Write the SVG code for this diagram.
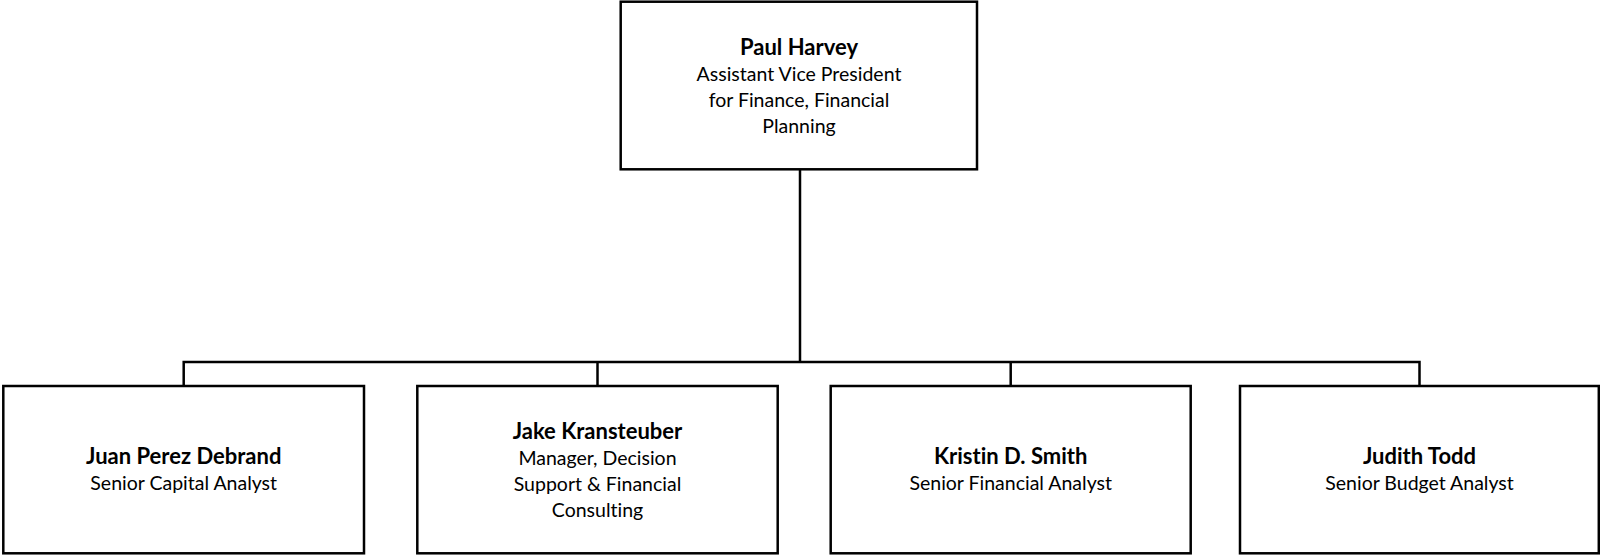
<svg xmlns="http://www.w3.org/2000/svg" width="1600" height="556" viewBox="0 0 1600 556">
<style>
.box{fill:#fff;stroke:#000;stroke-width:2.5}
.conn{fill:none;stroke:#000;stroke-width:2.5}
text{font-family:Lato,"Open Sans","Liberation Sans",sans-serif;font-size:19.5px;fill:#000;text-anchor:middle;font-variant-ligatures:none}
.name{font-weight:bold;font-size:22px}
</style>
<rect width="1600" height="556" fill="#fff"/>
<g id="connectors">
<path class="conn" d="M800 170V362"/>
<path class="conn" d="M183.7 386V362H1419.5V386"/>
<path class="conn" d="M597.5 362V386"/>
<path class="conn" d="M1010.7 362V386"/>
</g>
<g id="node-paul-harvey">
<rect class="box" x="620.7" y="1.7" width="356.3" height="167.6"/>
<text x="799" y="55" class="name">Paul Harvey</text>
<text x="799" y="81">Assistant Vice President</text>
<text x="799" y="106.5">for Finance, Financial</text>
<text x="799" y="132.5">Planning</text>
</g>
<g id="node-juan-perez-debrand">
<rect class="box" x="3.3" y="386" width="360.7" height="167.3"/>
<text x="183.7" y="464" class="name">Juan Perez Debrand</text>
<text x="183.7" y="490">Senior Capital Analyst</text>
</g>
<g id="node-jake-kransteuber">
<rect class="box" x="417.3" y="386" width="360.4" height="167.3"/>
<text x="597.5" y="439" class="name">Jake Kransteuber</text>
<text x="597.5" y="465">Manager, Decision</text>
<text x="597.5" y="491">Support &amp; Financial</text>
<text x="597.5" y="516.5">Consulting</text>
</g>
<g id="node-kristin-d-smith">
<rect class="box" x="830.7" y="386" width="360" height="167.3"/>
<text x="1010.7" y="464" class="name">Kristin D. Smith</text>
<text x="1010.7" y="490">Senior Financial Analyst</text>
</g>
<g id="node-judith-todd">
<rect class="box" x="1240" y="386" width="358.8" height="167.3"/>
<text x="1419.5" y="464" class="name">Judith Todd</text>
<text x="1419.5" y="490">Senior Budget Analyst</text>
</g>
</svg>
